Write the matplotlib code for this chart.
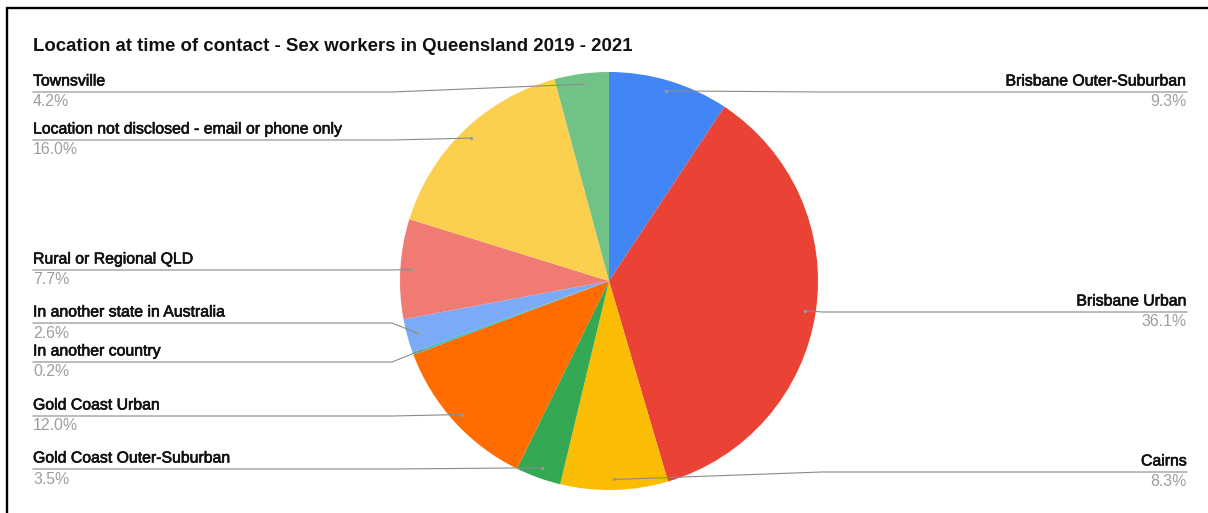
import matplotlib
matplotlib.use("Agg")
import matplotlib.pyplot as plt
import matplotlib.patheffects as pe
import numpy as np

plt.rcParams["font.family"] = ["Liberation Sans", "DejaVu Sans"]

# datos (orden horario desde arriba)
categorias = [
    "Brisbane Outer-Suburban",
    "Brisbane Urban",
    "Cairns",
    "Gold Coast Outer-Suburban",
    "Gold Coast Urban",
    "In another country",
    "In another state in Australia",
    "Rural or Regional QLD",
    "Location not disclosed - email or phone only",
    "Townsville",
]
porcentajes = [9.3, 36.1, 8.3, 3.5, 12.0, 0.2, 2.6, 7.7, 16.0, 4.2]
colores = ["#4285F4", "#EA4335", "#FBBC04", "#34A853", "#FF6D01",
           "#46BDC6", "#7BAAF7", "#F07B72", "#FCD04F", "#71C287"]
titulo = "Location at time of contact - Sex workers in Queensland 2019 - 2021"

# layout en pixeles (y desde arriba): lado y altura de la linea de etiqueta
lado = ["R", "R", "R", "L", "L", "L", "L", "L", "L", "L"]
linea_y = [92, 312, 472, 469, 416, 362, 323, 270, 140, 92]

W, H = 1208, 513
CX, CY, R = 609, 281, 209
X_IZQ, X_DER = 33, 1187

fig = plt.figure(figsize=(W / 100, H / 100), dpi=100)
ax = fig.add_axes([0, 0, 1, 1])

def py(y):
    return H - y

wedges, _ = ax.pie(porcentajes, colors=colores, startangle=90, counterclock=False,
                   center=(CX, py(CY)), radius=R, wedgeprops=dict(linewidth=0))
ax.set_xlim(0, W)
ax.set_ylim(0, H)
ax.set_aspect("equal")
ax.set_axis_off()

gris = "#9e9e9e"
grueso = [pe.withStroke(linewidth=0.45, foreground="#111111")]
for w, nombre, pct, s, ly in zip(wedges, categorias, porcentajes, lado, linea_y):
    ang = np.deg2rad((w.theta1 + w.theta2) / 2)
    axx = CX + 0.95 * R * np.cos(ang)
    ayy = py(CY) + 0.95 * R * np.sin(ang)
    if s == "L":
        xs = [X_IZQ, CX - R - 8, axx]
        tx, ha = X_IZQ, "left"
    else:
        xs = [X_DER, CX + R + 4, axx]
        tx, ha = X_DER, "right"
    ys = [py(ly), py(ly), ayy]
    ax.plot(xs, ys, color="#8a8a8a", lw=0.8, solid_joinstyle="round")
    ax.plot([axx], [ayy], "o", color="#9a9a9a", ms=2.4, mew=0)
    ax.text(tx, py(ly) + 11, nombre, ha=ha, va="center", fontsize=11.4,
            color="#111111", path_effects=grueso)
    ax.text(tx, py(ly) - 10, f"{pct:.1f}%", ha=ha, va="center", fontsize=11.4,
            color=gris)

ax.text(X_IZQ, py(46.5), titulo, ha="left", va="center", fontsize=13.4,
        fontweight="bold", color="#111111")

# marco (solo visible arriba e izquierda)
ax.plot([6.7, 6.7, W + 10], [-10, py(8.3), py(8.3)], color="black", lw=1.7,
        clip_on=False, solid_joinstyle="miter")

fig.savefig("out.png", dpi=100)
